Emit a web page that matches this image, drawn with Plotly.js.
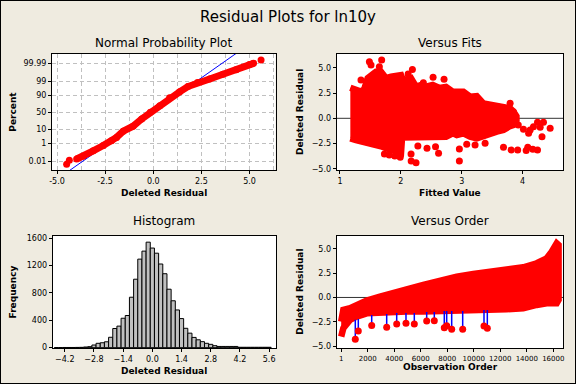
<!DOCTYPE html>
<html><head><meta charset="utf-8">
<script src="https://cdn.plot.ly/plotly-3.0.1.min.js"></script>
<style>html,body{margin:0;padding:0;background:#EFEBE0;} #chart{width:576px;height:384px;}</style>
</head><body><div id="chart"></div>
<script>
// ---------- Normal probability plot ----------
const nppResid = [-3.98,-3.64,-3.12,-2.6,-2.17,-1.91,-1.56,-1.05,-0.6,-0.15,0.34,0.85,1.37,1.8,2.3,2.93,3.62,4.31,5.0,5.21];
const nppPct   = [0.0216,0.045,0.187,0.62,1.62,2.94,7.78,14.7,30.9,50,69.1,86.4,93.9,97.4,98.78,99.41,99.795,99.936,99.985,99.989];
const nppTailResid = [-4.5,-4.36,5.6];
const nppTailPct   = [0.0044,0.0147,99.996];
const fitMean = -0.05, fitSd = 0.98;
const pctTicks = [0.01,1,10,50,90,99,99.99];
const pctTickText = ["0.01","1","10","50","90","99","99.99"];

// ---------- Versus fits ----------
const fitsEnvX  = [1.17,1.263,1.345,1.40,1.455,1.537,1.592,1.674,1.757,1.839,1.921,2.003,2.02,2.086,2.168,2.25,2.332,2.414,2.524,2.634,2.743,2.853,2.919,3.028,3.138,3.248,3.357,3.467,3.577,3.687,3.796,3.85,3.90];
const fitsEnvHi = [3.03,2.8,2.64,2.9,3.97,4.37,4.62,4.62,3.97,4.12,4.17,4.27,4.0,3.77,3.97,3.13,3.3,3.13,3.3,3.0,3.1,2.64,2.64,2.64,2.14,2.2,1.48,1.32,1.32,1.15,0.99,0.66,0.2];
const fitsEnvLo = [-1.98,-2.15,-2.27,-2.4,-2.47,-2.57,-2.67,-2.77,-2.97,-3.07,-3.3,-3.4,-1.9,-1.87,-1.97,-1.82,-1.97,-1.82,-1.97,-1.82,-1.82,-1.49,-1.65,-1.49,-1.82,-1.98,-1.65,-1.55,-1.32,-1.16,-0.77,-0.67,-0.2];
const fitsOutX = [1.483,1.685,1.51,1.345,1.647,2.19,2.12,2.53,2.71,2.37,2.168,2.25,2.17,2.28,2.43,2.57,2.62,1.99,1.9,1.81,1.73,2.962,2.962,3.083,3.22,3.385,3.687,3.813,3.92,4.06,4.086,4.169,4.246,3.93,4.015,4.125,4.1,4.18,4.246,4.344,4.29,4.454,4.32,3.796,3.85];
const fitsOutY = [5.61,5.77,5.28,3.79,5.11,4.84,4.39,4.06,3.86,3.53,-3.53,-4.39,-4.23,-2.74,-2.97,-2.81,-3.47,-3.86,-3.73,-3.63,-3.53,-3.04,-4.23,-2.58,-2.64,-2.48,-2.87,-3.14,-3.14,-3.2,-2.87,-3.07,-3.14,-0.66,-1.09,-1.16,-1.49,-0.83,-0.4,-0.4,-0.89,-0.99,-1.82,1.48,0.66];

// ---------- Histogram ----------
const histCenters = [-4.6,-4.4,-4.2,-4.0,-3.8,-3.6,-3.4,-3.2,-3.0,-2.8,-2.6,-2.4,-2.2,-2.0,-1.8,-1.6,-1.4,-1.2,-1.0,-0.8,-0.6,-0.4,-0.2,0.0,0.2,0.4,0.6,0.8,1.0,1.2,1.4,1.6,1.8,2.0,2.2,2.4,2.6,2.8,3.0,3.2,3.4,3.6,3.8,4.0,4.2,4.4,4.6,4.8,5.0,5.2,5.4,5.6];
const histCounts  = [2,2,3,3,3,4,5,10,15,39,64,72,86,152,280,315,430,470,737,1000,1293,1410,1541,1455,1380,1222,1080,854,685,551,425,283,212,150,115,88,64,49,29,18,18,18,18,18,6,6,6,6,6,6,6,6];
const histTicks = [-4.2,-2.8,-1.4,0.0,1.4,2.8,4.2,5.6];

// ---------- Versus order ----------
const ordObs = [1,160,665,1170,1925,2928,3682,4940,6194,7454,8713,9966,11225,12485,13737,14748,15502,15880,16257,16400];
const ordHi  = [-2.48,-1.28,-1.11,-0.77,-0.33,0.08,0.43,0.84,1.28,1.73,2.14,2.41,2.65,2.82,3.1,3.51,4.02,4.7,5.56,5.39];
const ordLo  = [-4.02,-3.17,-2.31,-1.97,-1.63,-1.56,-1.56,-1.45,-1.45,-1.35,-1.35,-1.28,-1.28,-1.21,-1.11,-0.77,-0.6,-0.6,-0.6,-0.26];
const ordOutObs  = [1065,1291,2302,3433,4188,4889,5516,6450,7024,7778,7959,8336,9166,10773,11024];
const ordOutVal  = [-4.29,-3.44,-2.89,-3.06,-2.72,-2.65,-2.72,-2.41,-2.38,-3.1,-2.9,-3.27,-3.27,-2.93,-3.17];
const ordOutBase = [-2.3,-2.2,-1.8,-1.7,-1.6,-1.6,-1.6,-1.5,-1.5,-1.4,-1.4,-1.4,-1.4,-1.3,-1.3];
const ordTicks = [1,2000,4000,6000,8000,10000,12000,14000,16000];

// inverse standard normal CDF (probability-paper scale)
function invNorm(p){
  const a=[-39.69683028665376,220.9460984245205,-275.9285104469687,138.3577518672690,-30.66479806614716,2.506628277459239];
  const b=[-54.47609879822406,161.5858368580409,-155.6989798598866,66.80131188771972,-13.28068155288572];
  const c=[-0.007784894002430293,-0.3223964580411365,-2.400758277161838,-2.549732539343734,4.374664141464968,2.938163982698783];
  const d=[0.007784695709041462,0.3224671290700398,2.445134137142996,3.754408661907416];
  const pl=0.02425; let q,r;
  if(p<pl){q=Math.sqrt(-2*Math.log(p));return (((((c[0]*q+c[1])*q+c[2])*q+c[3])*q+c[4])*q+c[5])/((((d[0]*q+d[1])*q+d[2])*q+d[3])*q+1);}
  if(p>1-pl){q=Math.sqrt(-2*Math.log(1-p));return -(((((c[0]*q+c[1])*q+c[2])*q+c[3])*q+c[4])*q+c[5])/((((d[0]*q+d[1])*q+d[2])*q+d[3])*q+1);}
  q=p-0.5;r=q*q;return (((((a[0]*r+a[1])*r+a[2])*r+a[3])*r+a[4])*r+a[5])*q/(((((b[0]*r+b[1])*r+b[2])*r+b[3])*r+b[4])*r+1);
}
const zOf = pct => invNorm(pct/100);

const RED = '#FF0000', BLUE = '#0000FF';
const tickFont = {family:'DejaVu Sans', size:8, color:'#000'};
const fitZ = [-4.8, 4.8];

const traces = [
  {x: fitZ.map(z=>fitMean+fitSd*z), y: fitZ, xaxis:'x', yaxis:'y', mode:'lines', line:{color:BLUE,width:1}},
  {x: nppResid, y: nppPct.map(zOf), xaxis:'x', yaxis:'y', mode:'lines+markers', line:{color:RED,width:7}, marker:{color:RED,size:7}},
  {x: nppTailResid, y: nppTailPct.map(zOf), xaxis:'x', yaxis:'y', mode:'markers', marker:{color:RED,size:7}},
  {x: fitsEnvX.concat(fitsEnvX.slice().reverse()), y: fitsEnvHi.concat(fitsEnvLo.slice().reverse()), xaxis:'x2', yaxis:'y2',
   mode:'lines', fill:'toself', fillcolor:RED, line:{color:RED,width:6.5}},
  {x: fitsOutX, y: fitsOutY, xaxis:'x2', yaxis:'y2', mode:'markers', marker:{color:RED,size:7}},
  {type:'bar', x: histCenters, y: histCounts, width:0.2, xaxis:'x3', yaxis:'y3', marker:{color:'#C0C0C0', line:{color:'#000',width:1}}},
  {x: ordObs.concat(ordObs.slice().reverse()), y: ordHi.concat(ordLo.slice().reverse()), xaxis:'x4', yaxis:'y4',
   mode:'lines', fill:'toself', fillcolor:RED, line:{color:RED,width:6.5}},
  {x: ordOutObs.flatMap(o=>[o,o,null]), y: ordOutBase.flatMap((b,i)=>[b,ordOutVal[i],null]), xaxis:'x4', yaxis:'y4',
   mode:'lines', line:{color:BLUE,width:1.5}},
  {x: ordOutObs, y: ordOutVal, xaxis:'x4', yaxis:'y4', mode:'markers', marker:{color:RED,size:7}}
];

const W=576,H=384;
const dx = (l,r)=>[l/W, r/W];
const dy = (t,b)=>[1-b/H, 1-t/H];
const baseAx = {showline:true, mirror:true, linecolor:'#000', linewidth:1, ticks:'outside', ticklen:3, tickcolor:'#000',
  zeroline:false, showgrid:false, tickfont:tickFont, fixedrange:true, tickangle:0};

const layout = {
  width:W, height:H, autosize:false, margin:{l:0,r:0,t:0,b:0},
  paper_bgcolor:'#EFEBE0', plot_bgcolor:'#FFFFFF', showlegend:false,
  xaxis: Object.assign({}, baseAx, {domain:dx(52,275.5), range:[-5.26,6.35], anchor:'y',
    tickvals:[-5,-2.5,0,2.5,5], ticktext:['-5.0','-2.5','0.0','2.5','5.0'],
    showgrid:true, gridcolor:'#C0C0C0', griddash:'4px,3px', gridwidth:1,
    minor:{tick0:0, dtick:1.25, showgrid:true, gridcolor:'#C0C0C0', griddash:'4px,3px', gridwidth:1, ticks:''}}),
  yaxis: Object.assign({}, baseAx, {domain:dy(54,170), range:[-4.35,4.40], anchor:'x',
    tickvals:pctTicks.map(zOf), ticktext:pctTickText,
    showgrid:true, gridcolor:'#C0C0C0', griddash:'4px,3px', gridwidth:1}),
  xaxis2: Object.assign({}, baseAx, {domain:dx(336.7,563.3), range:[0.946,4.67], anchor:'y2', tickvals:[1,2,3,4]}),
  yaxis2: Object.assign({}, baseAx, {domain:dy(54,170), range:[-5.12,6.37], anchor:'x2', tickvals:[-5,-2.5,0,2.5,5], tickformat:'.1f'}),
  xaxis3: Object.assign({}, baseAx, {domain:dx(52.7,276), range:[-4.78,5.93], anchor:'y3', tickvals:histTicks, tickformat:'.1f'}),
  yaxis3: Object.assign({}, baseAx, {domain:dy(236,348.3), range:[-9,1631], anchor:'x3', tickvals:[0,400,800,1200,1600]}),
  xaxis4: Object.assign({}, baseAx, {domain:dx(336.7,563.3), range:[-338,16755], anchor:'y4', tickvals:ordTicks, ticktext:ordTicks.map(String),
    tickfont:{family:'DejaVu Sans', size:7, color:'#000'}}),
  yaxis4: Object.assign({}, baseAx, {domain:dy(236,348.3), range:[-5.22,6.31], anchor:'x4', tickvals:[-5,-2.5,0,2.5,5], tickformat:'.1f'}),
  bargap:0,
  shapes:[
    {type:'line', xref:'x2 domain', x0:0, x1:1, yref:'y2', y0:0, y1:0, line:{color:'#333',width:1}, layer:'below'},
    {type:'line', xref:'x4 domain', x0:0, x1:1, yref:'y4', y0:0, y1:0, line:{color:'#333',width:1}, layer:'below'},
    {type:'rect', xref:'paper', yref:'paper', x0:0, x1:1, y0:0, y1:1, line:{color:'#000',width:2}}
  ],
  annotations:[]
};
function ann(text,x,y,size,bold,angle){
  layout.annotations.push({text: bold?('<b>'+text+'</b>'):text, xref:'paper', yref:'paper', x:x/W, y:1-y/H,
    xanchor:'center', yanchor:'middle', showarrow:false, textangle:angle||0,
    font:{family:'DejaVu Sans', size:size, color:'#000'}});
}
ann('Residual Plots for ln10y', 288, 17, 15, false);
ann('Normal Probability Plot', 163.5, 42.5, 12, false);
ann('Versus Fits', 450, 42.5, 12, false);
ann('Histogram', 163.5, 220.7, 12, false);
ann('Versus Order', 450, 220.7, 12, false);
ann('Deleted Residual', 163.5, 192.5, 9, true);
ann('Fitted Value', 450, 192.5, 9, true);
ann('Deleted Residual', 163.5, 370.5, 9, true);
ann('Observation Order', 450, 366.7, 9, true);
ann('Percent', 12.7, 112, 9, true, -90);
ann('Deleted Residual', 300, 112, 9, true, -90);
ann('Frequency', 12.7, 291.7, 9, true, -90);
ann('Deleted Residual', 300, 291.7, 9, true, -90);

Plotly.newPlot('chart', traces, layout, {staticPlot:true, displayModeBar:false});
</script></body></html>
